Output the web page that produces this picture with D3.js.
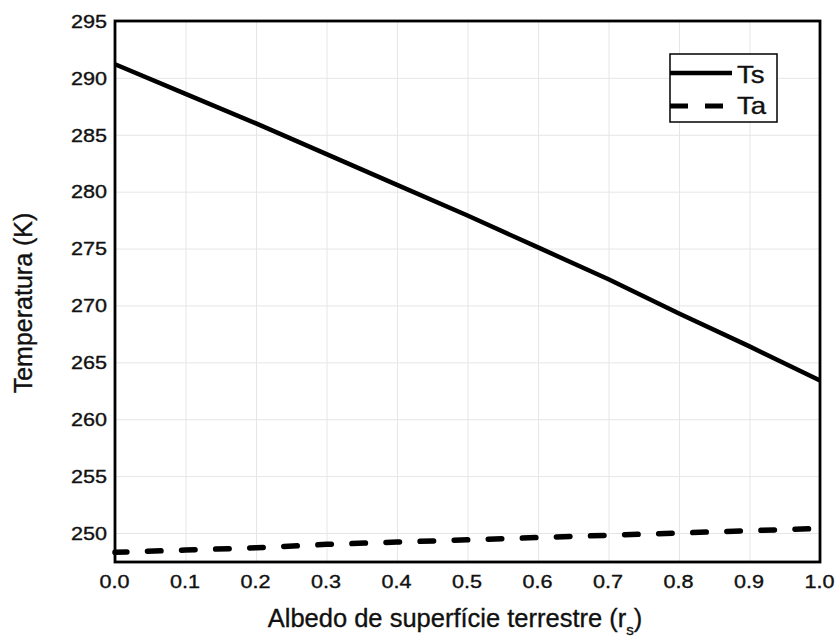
<!DOCTYPE html>
<html>
<head>
<meta charset="utf-8">
<script src="https://cdn.jsdelivr.net/npm/d3@7"></script>
<style>
  html, body { margin: 0; padding: 0; background: #fff; }
  svg { display: block; font-family: "Liberation Sans", Arial, Helvetica, sans-serif; }
  text { stroke: #111; stroke-width: 0.35px; }
</style>
</head>
<body>
<svg id="chart" width="838" height="644"></svg>
<script>
// Surface albedo (r_s) and the resulting temperatures
const albedo = [0.0, 0.1, 0.2, 0.3, 0.4, 0.5, 0.6, 0.7, 0.8, 0.9, 1.0];
const tsValues = [291.2, 288.6, 286.0, 283.3, 280.6, 277.9, 275.1, 272.3, 269.3, 266.4, 263.4];
const taValues = [248.3, 248.5, 248.7, 249.0, 249.2, 249.4, 249.6, 249.8, 250.0, 250.2, 250.4];
const xTicks = [0.0, 0.1, 0.2, 0.3, 0.4, 0.5, 0.6, 0.7, 0.8, 0.9, 1.0];
const yTicks = [250, 255, 260, 265, 270, 275, 280, 285, 290, 295];
const seriesNames = ["Ts", "Ta"];

const svg = d3.select("#chart");
const plot = { left: 115, right: 820, top: 21, bottom: 562 };
const w = plot.right - plot.left, h = plot.bottom - plot.top;
const stretch = 1.2; // wide lettering of the labels

const x = d3.scaleLinear().domain([0, 1]).range([0, w]);
const y = d3.scaleLinear().domain([247.45, 295]).range([h, 0]);

const g = svg.append("g").attr("transform", `translate(${plot.left},${plot.top})`);

// light grid
g.append("g")
  .attr("transform", `translate(0,${h})`)
  .call(d3.axisBottom(x).tickValues(xTicks).tickSize(-h).tickFormat(""))
  .call(a => a.select(".domain").remove())
  .call(a => a.selectAll("line").attr("stroke", "#e6e6e6").attr("stroke-width", 1));
g.append("g")
  .call(d3.axisLeft(y).tickValues(yTicks).tickSize(-w).tickFormat(""))
  .call(a => a.select(".domain").remove())
  .call(a => a.selectAll("line").attr("stroke", "#e6e6e6").attr("stroke-width", 1));

// tick labels
g.append("g")
  .attr("transform", `translate(0,${h})`)
  .call(d3.axisBottom(x).tickValues(xTicks).tickSize(0).tickFormat(d3.format(".1f")))
  .call(a => a.select(".domain").remove())
  .call(a => a.selectAll("text")
      .attr("y", 0).attr("dy", null)
      .attr("transform", `translate(-1,26) scale(${stretch},1)`)
      .attr("fill", "#111").attr("font-size", 18)
      .attr("font-family", "Liberation Sans, Arial, sans-serif"));
g.append("g")
  .call(d3.axisLeft(y).tickValues(yTicks).tickSize(0).tickFormat(d3.format("d")))
  .call(a => a.select(".domain").remove())
  .call(a => a.selectAll("text")
      .attr("x", 0).attr("dy", "0.35em")
      .attr("transform", `translate(-8,0) scale(${stretch},1)`)
      .attr("fill", "#111").attr("font-size", 18)
      .attr("font-family", "Liberation Sans, Arial, sans-serif"));

// series lines
const line = d3.line().x((d, i) => x(albedo[i])).y(d => y(d));
g.append("path").datum(tsValues)
  .attr("d", line).attr("fill", "none")
  .attr("stroke", "#000").attr("stroke-width", 4.5).attr("stroke-linejoin", "round");
g.append("path").datum(taValues)
  .attr("d", line).attr("fill", "none")
  .attr("stroke", "#000").attr("stroke-width", 5.5)
  .attr("stroke-dasharray", "13.5,20.6").attr("stroke-dashoffset", 1.6)
  .attr("stroke-linecap", "round");

// frame
g.append("rect").attr("x", 0).attr("y", 0).attr("width", w).attr("height", h)
  .attr("fill", "none").attr("stroke", "#000").attr("stroke-width", 2.8);

// legend
const lg = svg.append("g").attr("transform", "translate(670,54)");
lg.append("rect").attr("width", 107).attr("height", 68)
  .attr("fill", "#fff").attr("stroke", "#000").attr("stroke-width", 1.5);
lg.append("line").attr("x1", 0).attr("x2", 62).attr("y1", 19).attr("y2", 19)
  .attr("stroke", "#000").attr("stroke-width", 4.5);
lg.append("line").attr("x1", 0).attr("x2", 62).attr("y1", 52).attr("y2", 52)
  .attr("stroke", "#000").attr("stroke-width", 5)
  .attr("stroke-dasharray", "18,17");
lg.selectAll("text.leg").data(seriesNames).join("text")
  .attr("class", "leg")
  .attr("transform", (d, i) => `translate(67,${[29, 60][i]}) scale(${stretch},1)`)
  .attr("font-size", 23).attr("fill", "#111")
  .text(d => d);

// axis titles
svg.append("text")
  .attr("transform", "translate(32,303) rotate(-90)")
  .attr("text-anchor", "middle").attr("font-size", 25).attr("fill", "#111")
  .text("Temperatura (K)");
const xt = svg.append("text")
  .attr("x", 455).attr("y", 627)
  .attr("text-anchor", "middle").attr("font-size", 25.5).attr("fill", "#111");
xt.append("tspan").text("Albedo de superfície terrestre (r");
xt.append("tspan").attr("font-size", 15).attr("dy", 8).text("s");
xt.append("tspan").attr("dy", -8).text(")");
</script>
</body>
</html>
